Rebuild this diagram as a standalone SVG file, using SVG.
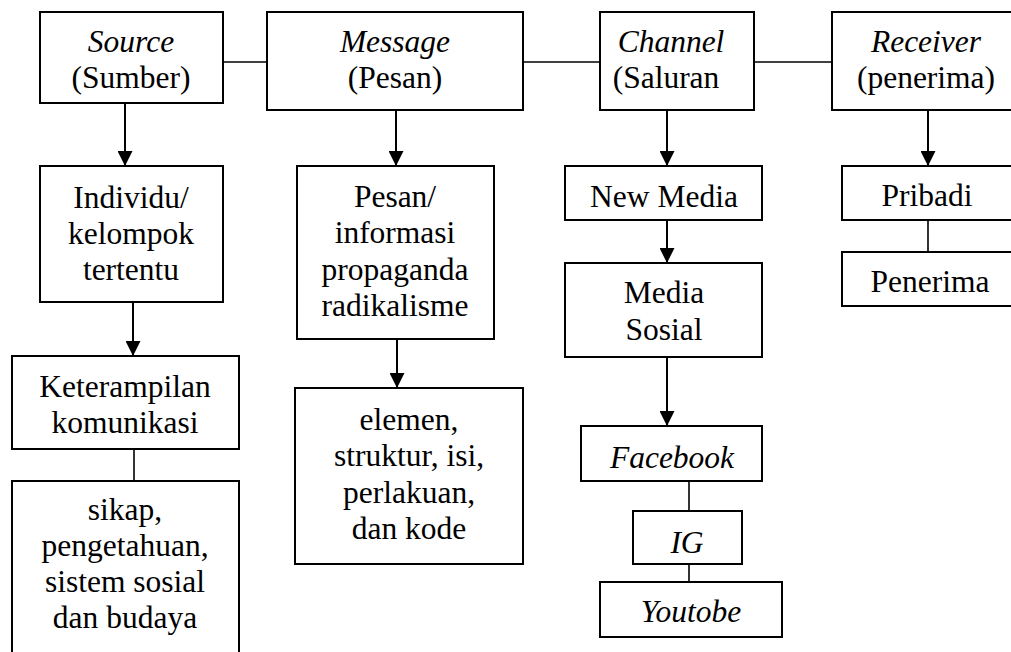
<svg xmlns="http://www.w3.org/2000/svg" width="1011" height="652" viewBox="0 0 1011 652" font-family="'Liberation Serif', Tinos, 'Times New Roman', Times, 'DejaVu Serif', serif">
<style>
rect.box{fill:#fff;stroke:#000;stroke-width:2}
text{font-family:'Liberation Serif', Tinos, 'Times New Roman', Times, 'DejaVu Serif', serif;font-size:31.5px;fill:#000;text-anchor:middle}
.it{font-style:italic}
.arrow{stroke:#000;stroke-width:2;fill:none;marker-end:url(#ah)}
.line{stroke:#000;stroke-width:1.6;fill:none}
</style>
<defs>
<marker id="ah" markerUnits="userSpaceOnUse" markerWidth="15" markerHeight="15" refX="15" refY="7.5" orient="auto">
<path d="M0,0 L15,7.5 L0,15 z" fill="#000"/>
</marker>
</defs>
<rect width="1011" height="652" fill="#fff"/>
<g id="connectors">
<line class="line" x1="223" y1="62" x2="267" y2="62"/>
<line class="line" x1="523" y1="62" x2="600" y2="62"/>
<line class="line" x1="754" y1="62" x2="832" y2="62"/>
<line class="arrow" x1="125" y1="103" x2="125" y2="166"/>
<line class="arrow" x1="133" y1="302" x2="133" y2="356"/>
<line class="line" x1="134" y1="449" x2="134" y2="481"/>
<line class="arrow" x1="396" y1="110" x2="396" y2="166"/>
<line class="arrow" x1="397" y1="339" x2="397" y2="388"/>
<line class="arrow" x1="667" y1="110" x2="667" y2="166"/>
<line class="arrow" x1="667" y1="220" x2="667" y2="263"/>
<line class="arrow" x1="667" y1="357" x2="667" y2="426"/>
<line class="line" x1="689" y1="481" x2="689" y2="511"/>
<line class="line" x1="689" y1="564" x2="689" y2="582"/>
<line class="arrow" x1="928" y1="110" x2="928" y2="166"/>
<line class="line" x1="928" y1="220" x2="928" y2="252"/>
</g>
<g id="source">
<rect class="box" x="40" y="12" width="183" height="91"/>
<text x="131" y="52" class="it">Source</text>
<text x="131" y="88">(Sumber)</text>
</g>
<g id="message">
<rect class="box" x="267" y="12" width="256" height="98"/>
<text x="395" y="52" class="it">Message</text>
<text x="395" y="88">(Pesan)</text>
</g>
<g id="channel">
<rect class="box" x="600" y="12" width="154" height="98"/>
<text x="671" y="52" class="it">Channel</text>
<text x="666" y="88">(Saluran</text>
</g>
<g id="receiver">
<rect class="box" x="832" y="12" width="190" height="98"/>
<text x="926" y="52" class="it">Receiver</text>
<text x="926" y="88">(penerima)</text>
</g>
<g id="individu">
<rect class="box" x="40" y="166" width="183" height="136"/>
<text x="131" y="208">Individu/</text>
<text x="131" y="244">kelompok</text>
<text x="131" y="280">tertentu</text>
</g>
<g id="keterampilan">
<rect class="box" x="12" y="356" width="227" height="93"/>
<text x="125" y="397">Keterampilan</text>
<text x="125" y="433">komunikasi</text>
</g>
<g id="sikap">
<rect class="box" x="12" y="481" width="227" height="190"/>
<text x="125" y="520">sikap,</text>
<text x="125" y="556">pengetahuan,</text>
<text x="125" y="592">sistem sosial</text>
<text x="125" y="628">dan budaya</text>
</g>
<g id="pesan">
<rect class="box" x="297" y="166" width="197" height="173"/>
<text x="395" y="207">Pesan/</text>
<text x="395" y="243">informasi</text>
<text x="395" y="280">propaganda</text>
<text x="395" y="316">radikalisme</text>
</g>
<g id="elemen">
<rect class="box" x="295" y="388" width="228" height="176"/>
<text x="409" y="430">elemen,</text>
<text x="409" y="466">struktur, isi,</text>
<text x="409" y="503">perlakuan,</text>
<text x="409" y="539">dan kode</text>
</g>
<g id="newmedia">
<rect class="box" x="565" y="166" width="197" height="54"/>
<text x="664" y="207">New Media</text>
</g>
<g id="mediasosial">
<rect class="box" x="565" y="263" width="197" height="94"/>
<text x="664" y="303">Media</text>
<text x="664" y="340">Sosial</text>
</g>
<g id="facebook">
<rect class="box" x="581" y="426" width="181" height="55"/>
<text x="672" y="468" class="it">Facebook</text>
</g>
<g id="ig">
<rect class="box" x="633" y="511" width="109" height="53"/>
<text x="687" y="553" class="it">IG</text>
</g>
<g id="youtobe">
<rect class="box" x="600" y="582" width="182" height="55"/>
<text x="691" y="622" class="it">Youtobe</text>
</g>
<g id="pribadi">
<rect class="box" x="842" y="166" width="180" height="54"/>
<text x="927" y="206">Pribadi</text>
</g>
<g id="penerima">
<rect class="box" x="842" y="252" width="180" height="54"/>
<text x="930" y="292">Penerima</text>
</g>
</svg>
